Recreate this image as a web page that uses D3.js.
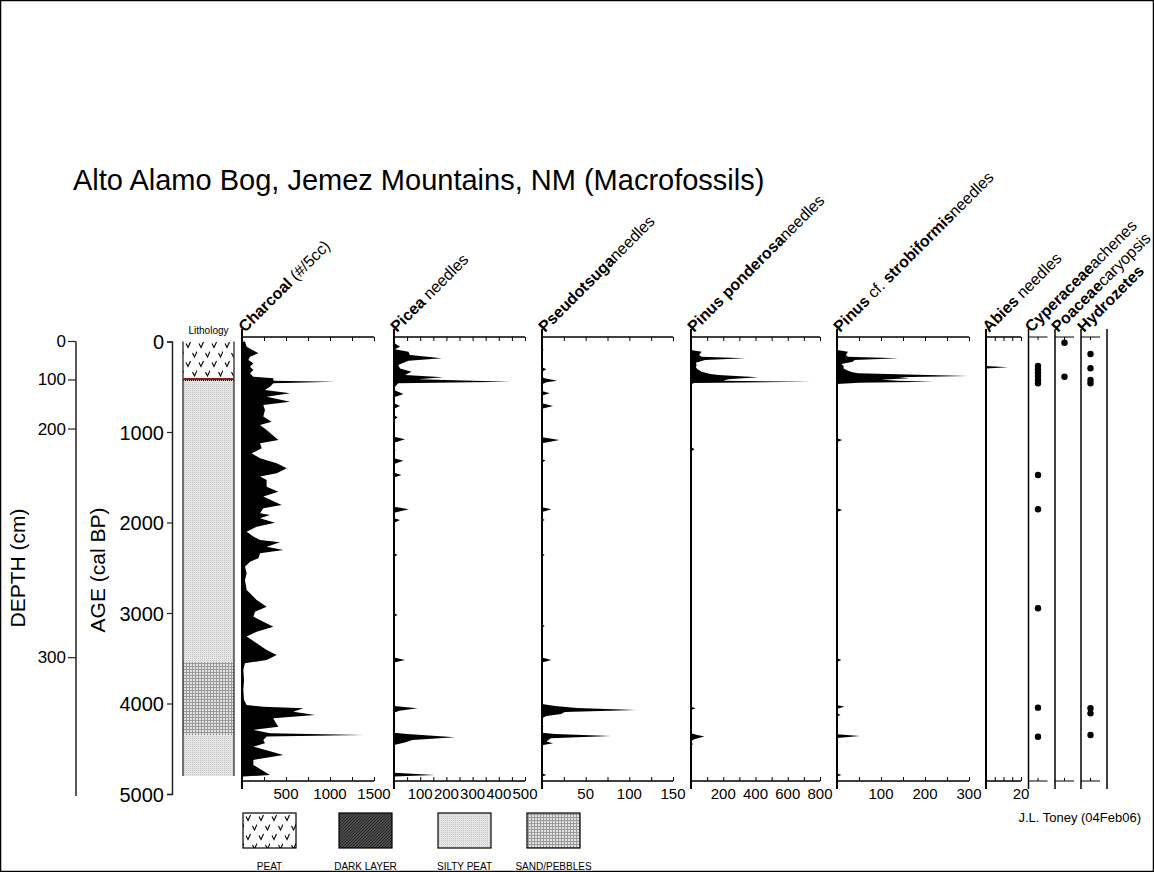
<!DOCTYPE html>
<html><head><meta charset="utf-8">
<script src="https://cdn.jsdelivr.net/npm/d3@7"></script>
<style>body{margin:0;background:#fff}svg{display:block}text{font-family:"Liberation Sans",Arial,sans-serif;fill:#000}</style>
</head><body><svg id="c" width="1154" height="872"></svg>
<script>
// ---------- DATA (age cal BP, value) ----------
const ageTicks = [0,1000,2000,3000,4000,5000];
const depthTicks = [0,100,200,300];
const depthAge = [0,425,967,3494];          // age (cal BP) at each depth tick
const lithology = [                           // [topAge, bottomAge, type]
  [0,414,"peat"],[414,3541,"silty"],[3541,4348,"sand"],[4348,4801,"silty"]];
const legendTypes = ["peat","dark","silty","sand"];
const legendLabels = ["PEAT","DARK LAYER","SILTY PEAT","SAND/PEBBLES"];

const charcoal = [[0,34],[57,53],[131,186],[168,91],[204,72],[241,129],[278,91],[315,129],[352,91],[389,129],[407,356],[433,356],[444,1057],[462,356],[499,318],[536,261],[573,546],[610,280],[665,546],[702,242],[757,261],[830,242],[886,337],[923,205],[978,280],[1088,413],[1125,205],[1180,224],[1236,110],[1291,205],[1346,394],[1401,508],[1457,394],[1493,205],[1530,280],[1604,280],[1659,413],[1714,242],[1806,451],[1843,242],[1899,205],[1917,318],[1954,205],[2002,375],[2046,167],[2101,53],[2156,129],[2193,205],[2219,432],[2267,280],[2304,470],[2340,205],[2396,186],[2433,91],[2488,34],[2562,53],[2635,34],[2746,53],[2782,91],[2856,167],[2930,280],[2985,148],[3040,129],[3096,242],[3151,356],[3206,167],[3261,53],[3335,167],[3409,280],[3464,394],[3519,280],[3556,34],[3630,15],[3740,23],[3850,15],[3961,23],[4016,53],[4035,242],[4053,697],[4090,583],[4127,830],[4164,356],[4200,375],[4256,413],[4292,129],[4329,318],[4348,1379],[4366,280],[4403,242],[4440,261],[4477,129],[4569,470],[4624,129],[4679,129],[4734,224],[4790,318],[4808,15]];

const picea = [[0,3],[20,2],[57,23],[86,3],[112,55],[149,61],[186,182],[212,55],[260,16],[297,23],[333,67],[370,42],[396,188],[418,93],[444,443],[462,16],[499,4],[536,0],[580,36],[617,0],[683,0],[713,23],[742,0],[816,0],[838,14],[867,0],[1052,0],[1081,42],[1118,0],[1180,0],[1199,6],[1217,0],[1291,0],[1317,36],[1353,0],[1449,0],[1475,29],[1504,0],[1825,0],[1854,57],[1891,0],[1954,0],[1972,23],[2002,0],[2340,0],[2359,14],[2377,0],[3003,0],[3022,14],[3040,0],[3493,0],[3519,42],[3548,0],[4027,0],[4053,90],[4079,20],[4101,0],[4164,4],[4219,4],[4274,4],[4322,0],[4336,50],[4373,233],[4403,70],[4432,42],[4458,0],[4764,0],[4790,156],[4808,0]];

const pseudotsuga = [[0,0],[80,0],[95,2],[110,0],[285,0],[307,5],[333,0],[389,0],[407,3],[433,17.5],[451,5],[473,0],[547,0],[573,8.8],[598,0],[683,0],[713,12.6],[742,0],[1059,0],[1088,20],[1125,0],[1298,0],[1317,4],[1335,0],[1832,0],[1854,10.7],[1884,0],[1954,0],[1972,3],[1990,0],[2340,0],[2359,3],[2377,0],[3125,0],[3143,3],[3162,0],[3493,0],[3519,10.7],[3548,0],[4005,0],[4027,15],[4050,40],[4072,108],[4094,26],[4116,22],[4138,5],[4164,0],[4248,0],[4256,2],[4267,0],[4322,0],[4336,15],[4359,79],[4384,10],[4421,5],[4440,12.6],[4462,0],[4771,0],[4790,5],[4808,0]];

const ponderosa = [[0,0],[94,0],[112,66],[149,50],[168,66],[186,335],[204,87],[234,30],[260,35],[285,30],[307,40],[333,66],[359,120],[370,170],[396,417],[418,231],[433,200],[444,738],[459,20],[473,0],[573,0],[591,8],[610,0],[1162,0],[1191,21],[1217,0],[2340,0],[2359,5],[2377,0],[3500,0],[3519,5],[3537,0],[4035,0],[4053,29],[4072,0],[4329,0],[4348,40],[4366,83],[4396,20],[4421,0],[4440,0],[4447,15],[4458,0],[4771,0],[4790,5],[4808,0]];

const strobiformis = [[0,0],[94,0],[112,25],[149,20],[168,25],[186,139],[204,40],[223,36],[249,10],[271,15],[297,15],[322,25],[341,35],[352,48],[366,160],[381,298],[396,140],[407,165],[422,100],[433,140],[444,219],[455,50],[470,0],[1070,0],[1088,12],[1110,0],[1843,0],[1862,12],[1884,0],[3011,0],[3022,3],[3033,0],[3500,0],[3519,10],[3541,0],[4016,0],[4035,17],[4057,0],[4108,0],[4127,8],[4145,0],[4340,0],[4359,52],[4381,0],[4771,0],[4790,10],[4808,0]];

const abies = [[0,0],[272,0],[285,12.6],[298,0],[4808,0]];

const cyperaceae = [271,307,345,381,425,462,1475,1854,2948,4046,4367];
const poaceae = [13,389];
const hydrozetes = [138,296,425,462,4053,4109,4348];

// ---------- DRAW ----------
const svg = d3.select("#c");
const y = d3.scaleLinear().domain([0,5000]).range([341.5,794]);
const defs = svg.append("defs");

// patterns
let p = defs.append("pattern").attr("id","pat-peat").attr("patternUnits","userSpaceOnUse").attr("width",13).attr("height",19).attr("x",184).attr("y",341);
p.append("rect").attr("width",13).attr("height",19).attr("fill","#fff");
p.append("path").attr("d","M2,2.5 L4,6.5 L6.5,1 M8.5,12 L10.5,16 L13,10.5").attr("stroke","#000").attr("stroke-width",1.1).attr("fill","none");
p = defs.append("pattern").attr("id","pat-dark").attr("patternUnits","userSpaceOnUse").attr("width",3).attr("height",3);
p.append("rect").attr("width",3).attr("height",3).attr("fill","#4a4a4a");
p.append("path").attr("d","M0,3 L3,0").attr("stroke","#2a2a2a").attr("stroke-width",1);
p = defs.append("pattern").attr("id","pat-silty").attr("patternUnits","userSpaceOnUse").attr("width",2).attr("height",2);
p.append("rect").attr("width",2).attr("height",2).attr("fill","#e6e6e6");
p.append("rect").attr("width",1).attr("height",1).attr("fill","#c4c4c4");
p = defs.append("pattern").attr("id","pat-sand").attr("patternUnits","userSpaceOnUse").attr("width",3).attr("height",3);
p.append("rect").attr("width",3).attr("height",3).attr("fill","#e2e2e2");
p.append("path").attr("d","M0,0.5 H3 M0.5,0 V3").attr("stroke","#9a9a9a").attr("stroke-width",1);

// outer frame
svg.append("rect").attr("x",0.5).attr("y",0.5).attr("width",1153).attr("height",871).attr("fill","none").attr("stroke","#000").attr("stroke-width",1.5);

// title
svg.append("text").attr("x",73).attr("y",190).attr("font-size",29).text("Alto Alamo Bog, Jemez Mountains, NM (Macrofossils)");

// depth axis
const depthG = svg.append("g");
depthG.append("line").attr("x1",76).attr("x2",76).attr("y1",y(0)).attr("y2",796).attr("stroke","#222").attr("stroke-width",1.5);
depthTicks.forEach((d,i)=>{
  const yy = y(depthAge[i]);
  depthG.append("line").attr("x1",68).attr("x2",76).attr("y1",yy).attr("y2",yy).attr("stroke","#222").attr("stroke-width",1.2);
  depthG.append("text").attr("x",66).attr("y",yy+5.5).attr("text-anchor","end").attr("font-size",17).text(d);
});
svg.append("text").attr("transform","translate(25,568) rotate(-90)").attr("text-anchor","middle").attr("font-size",21).text("DEPTH (cm)");

// age axis
const ageAxis = d3.axisLeft(y).tickValues(ageTicks).tickSize(5).tickPadding(3).tickFormat(d3.format("d"));
const ag = svg.append("g").attr("transform","translate(172,0)").call(ageAxis);
ag.select(".domain").attr("stroke","#222").attr("stroke-width",1.5);
ag.selectAll(".tick line").attr("stroke","#222").attr("stroke-width",1.2);
ag.selectAll(".tick text").attr("font-size",20).attr("font-family","Liberation Sans, Arial, sans-serif").attr("dy","0.36em");
svg.append("text").attr("transform","translate(105,570) rotate(-90)").attr("text-anchor","middle").attr("font-size",21).text("AGE (cal BP)");

// lithology
const lx0 = 183, lx1 = 234;
lithology.forEach(l=>{
  svg.append("rect").attr("x",lx0).attr("width",lx1-lx0).attr("y",y(l[0])).attr("height",y(l[1])-y(l[0])).attr("fill","url(#pat-"+l[2]+")");
});
svg.append("line").attr("x1",lx0).attr("x2",lx1).attr("y1",y(lithology[0][1])).attr("y2",y(lithology[0][1])).attr("stroke","#8b1a1a").attr("stroke-width",2);
svg.append("line").attr("x1",lx0).attr("x2",lx1).attr("y1",y(lithology[0][1])+1.5).attr("y2",y(lithology[0][1])+1.5).attr("stroke","#000").attr("stroke-width",1).attr("stroke-dasharray","1,1");
[lx0,lx1].forEach(x=>svg.append("line").attr("x1",x).attr("x2",x).attr("y1",y(0)).attr("y2",y(lithology[3][1])).attr("stroke","#444").attr("stroke-width",1.5));
svg.append("text").attr("x",(lx0+lx1)/2).attr("y",334).attr("text-anchor","middle").attr("font-size",10).text("Lithology");

// panels
const TOP = 337, BOT = 781;
function rotLabel(x, parts){
  const t = svg.append("text").attr("transform",`translate(${x+3},333) rotate(-45)`).attr("font-size",16);
  parts.forEach(pt=>t.append("tspan").attr("font-weight",pt[1]?"bold":"normal").text(pt[0]));
}
function panel(data, x0, x1, max, step, labels, label){
  const x = d3.scaleLinear().domain([0,max]).range([x0,x1]);
  const area = d3.area().y(d=>y(d[0])).x0(x(0)).x1(d=>x(d[1]));
  svg.append("path").datum(data).attr("d",area).attr("fill","#000");
  const ticks = d3.range(0,max+0.001,step);
  const top = d3.axisTop(x).tickValues(ticks).tickSize(-4).tickFormat("");
  const tg = svg.append("g").attr("transform",`translate(0,${TOP})`).call(top);
  const bot = d3.axisBottom(x).tickValues(ticks).tickSize(-4).tickFormat("");
  const bg = svg.append("g").attr("transform",`translate(0,${BOT})`).call(bot);
  [tg,bg].forEach(g=>{g.select(".domain").attr("stroke","#000").attr("stroke-width",1.5).attr("d",`M${x0},0H${x1}`);g.selectAll(".tick line").attr("stroke","#000");});
  labels.forEach(v=>svg.append("text").attr("x",x(v)).attr("y",799).attr("text-anchor","middle").attr("font-size",15).text(v));
  svg.append("line").attr("x1",x0).attr("x2",x0).attr("y1",329).attr("y2",789).attr("stroke","#000").attr("stroke-width",2);
  rotLabel(x0,label);
}
panel(charcoal,242,374,1500,250,[500,1000,1500],[["Charcoal",1],[" (#/5cc)",0]]);
panel(picea,394,525,500,50,[100,200,300,400,500],[["Picea",1],[" needles",0]]);
panel(pseudotsuga,542,673,150,25,[50,100,150],[["Pseudotsuga",1],["needles",0]]);
panel(ponderosa,691,820,800,100,[200,400,600,800],[["Pinus ponderosa",1],["needles",0]]);
panel(strobiformis,837,969,300,50,[100,200,300],[["Pinus",1],[" cf. ",0],["strobiformis",1],["needles",0]]);
panel(abies,986,1021,20,5,[20],[["Abies",1],[" needles",0]]);

function presence(ages, x0, x1, label){
  const cx = (x0+x1)/2;
  svg.append("line").attr("x1",x0).attr("x2",x0).attr("y1",329).attr("y2",789).attr("stroke","#000").attr("stroke-width",1.5);
  [TOP,BOT].forEach((yy,i)=>{
    svg.append("line").attr("x1",x0).attr("x2",x1).attr("y1",yy).attr("y2",yy).attr("stroke","#000").attr("stroke-width",1);
    svg.append("line").attr("x1",cx).attr("x2",cx).attr("y1",yy).attr("y2",yy+(i?-3:3)).attr("stroke","#000").attr("stroke-width",1);
  });
  svg.selectAll(null).data(ages).enter().append("circle").attr("cx",cx).attr("cy",d=>y(d)).attr("r",3.2).attr("fill","#000");
  rotLabel(x0,label);
}
presence(cyperaceae,1028.5,1047.5,[["Cyperaceae",1],["achenes",0]]);
presence(poaceae,1055,1074,[["Poaceae",1],["caryopsis",0]]);
presence(hydrozetes,1081,1100,[["Hydrozetes",1]]);
svg.append("line").attr("x1",1107).attr("x2",1107).attr("y1",329).attr("y2",789).attr("stroke","#000").attr("stroke-width",1.5);

// legend
const legX = [243,339,438,527];
legendTypes.forEach((t,i)=>{
  const src = defs.select("#pat-"+t).node().cloneNode(true);
  src.setAttribute("id","pat-"+t+"L");
  src.setAttribute("x",legX[i]+1); src.setAttribute("y",814);
  defs.node().appendChild(src);
});
legendTypes.forEach((t,i)=>{
  svg.append("rect").attr("x",legX[i]).attr("y",813).attr("width",53).attr("height",35).attr("fill","url(#pat-"+t+"L)").attr("stroke","#000").attr("stroke-width",1.2);
  svg.append("text").attr("x",legX[i]+26.5).attr("y",870).attr("text-anchor","middle").attr("font-size",10).text(legendLabels[i]);
});

svg.append("text").attr("x",1141).attr("y",822).attr("text-anchor","end").attr("font-size",13).text("J.L. Toney (04Feb06)");
</script></body></html>
